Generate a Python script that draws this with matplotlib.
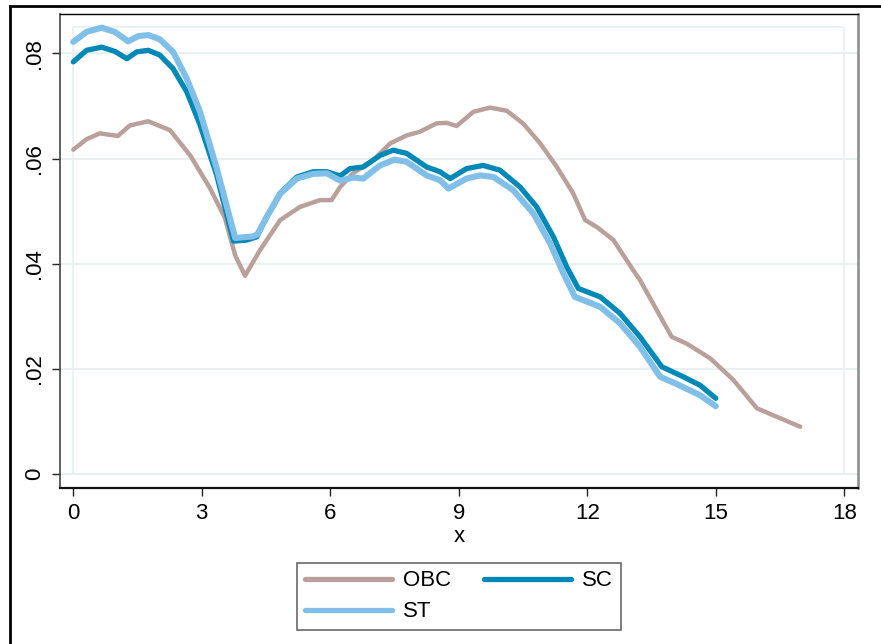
import matplotlib
matplotlib.use("Agg")
import matplotlib.pyplot as plt
from matplotlib.lines import Line2D

plt.rcParams['font.family'] = ['Liberation Sans', 'DejaVu Sans']

# OBC series
obc_x = [0.0, 0.31, 0.62, 1.04, 1.32, 1.75, 2.26, 2.73, 3.19, 3.54, 3.78, 4.01,
         4.36, 4.83, 5.29, 5.76, 6.03, 6.23, 6.53, 7.0, 7.4, 7.78, 8.09, 8.48,
         8.72, 8.95, 9.34, 9.73, 10.12, 10.5, 10.9, 11.29, 11.67, 11.95, 12.22,
         12.61, 13.07, 13.23, 13.62, 13.97, 14.32, 14.87, 15.41, 15.96, 16.42, 16.97]
obc_y = [0.0617, 0.0637, 0.0648, 0.0643, 0.0663, 0.0671, 0.0654, 0.0606, 0.0544,
         0.0487, 0.0416, 0.0377, 0.0426, 0.0483, 0.0508, 0.0521, 0.0521, 0.0546,
         0.0572, 0.0597, 0.0629, 0.0644, 0.0651, 0.0667, 0.0668, 0.0662, 0.0689,
         0.0697, 0.0691, 0.0667, 0.0629, 0.0584, 0.0534, 0.0483, 0.0470, 0.0445,
         0.0388, 0.0369, 0.0312, 0.0261, 0.0248, 0.0220, 0.0179, 0.0125, 0.0109,
         0.0090]

# SC series
sc_x = [0.0, 0.31, 0.66, 0.97, 1.25, 1.48, 1.75, 2.02, 2.33, 2.65, 2.96, 3.35,
        3.74, 4.05, 4.28, 4.52, 4.83, 5.22, 5.6, 5.92, 6.23, 6.46, 6.77, 7.16,
        7.47, 7.78, 8.25, 8.56, 8.8, 9.18, 9.57, 9.96, 10.43, 10.82, 11.21,
        11.52, 11.79, 12.3, 12.76, 13.23, 13.74, 14.24, 14.63, 15.0]
sc_y = [0.0784, 0.0806, 0.0812, 0.0804, 0.0790, 0.0803, 0.0806, 0.0797, 0.0771,
        0.0727, 0.0664, 0.0568, 0.0443, 0.0445, 0.0451, 0.0489, 0.0534, 0.0565,
        0.0575, 0.0575, 0.0567, 0.0581, 0.0584, 0.0606, 0.0616, 0.0610, 0.0584,
        0.0575, 0.0562, 0.0581, 0.0587, 0.0578, 0.0546, 0.0508, 0.0451, 0.0394,
        0.0353, 0.0337, 0.0306, 0.0261, 0.0204, 0.0185, 0.0169, 0.0144]

# ST series
st_x = [0.0, 0.31, 0.66, 0.97, 1.28, 1.52, 1.75, 2.02, 2.33, 2.65, 2.96, 3.35,
        3.78, 4.2, 4.3, 4.52, 4.83, 5.22, 5.6, 5.92, 6.23, 6.54, 6.77, 7.16,
        7.5, 7.78, 8.25, 8.56, 8.76, 9.18, 9.5, 9.81, 10.27, 10.74, 11.13,
        11.44, 11.71, 12.3, 12.76, 13.23, 13.7, 14.09, 14.63, 15.0]
st_y = [0.0822, 0.0841, 0.0849, 0.0841, 0.0823, 0.0833, 0.0835, 0.0827, 0.0803,
        0.0752, 0.0689, 0.0581, 0.0449, 0.0452, 0.0456, 0.0490, 0.0533, 0.0562,
        0.0571, 0.0572, 0.0558, 0.0564, 0.0562, 0.0587, 0.0598, 0.0594, 0.0568,
        0.0559, 0.0543, 0.0562, 0.0568, 0.0565, 0.0540, 0.0496, 0.0439, 0.0382,
        0.0337, 0.0318, 0.0287, 0.0242, 0.0185, 0.0171, 0.0150, 0.0129]

xticks = [0, 3, 6, 9, 12, 15, 18]
yticks = [0, 0.02, 0.04, 0.06, 0.08]
ytick_labels = ['0', '.02', '.04', '.06', '.08']

grid_col = '#e8f0f1'

fig = plt.figure(figsize=(8.81, 6.44), dpi=100)
ax = fig.add_axes([60 / 881, 1 - 488 / 644, 798 / 881, 474.5 / 644])

for y in yticks:
    ax.axhline(y, color=grid_col, lw=1.5, zorder=0)
ax.vlines([xticks[0], xticks[-1]], 0, 0.085, color=grid_col, lw=1.2, zorder=0)
ax.hlines(0.085, xticks[0], xticks[-1], color=grid_col, lw=1.2, zorder=0)

l_obc, = ax.plot(obc_x, obc_y, color='#b9a09a', lw=3.2, label='OBC',
                 solid_capstyle='round', solid_joinstyle='round')
l_sc, = ax.plot(sc_x, sc_y, color='#0088b6', lw=3.8, label='SC',
                solid_capstyle='round', solid_joinstyle='round')
l_st, = ax.plot(st_x, st_y, color='#80bfe8', lw=4.4, label='ST',
                solid_capstyle='round', solid_joinstyle='round')

ax.set_xlim(-0.31, 18.32)
ax.set_ylim(-0.00266, 0.0876)
ax.set_xticks(xticks)
ax.set_yticks(yticks)
ax.set_yticklabels(ytick_labels, rotation=90, va='center')
ax.tick_params(axis='both', length=6, width=1, labelsize=16, color='#222222')
ax.tick_params(axis='x', pad=5)
ax.tick_params(axis='y', pad=5)
ax.set_xlabel('x', fontsize=16, labelpad=1)

ax.spines['top'].set_color('black')
ax.spines['top'].set_linewidth(1.0)
ax.spines['left'].set_color('#444444')
ax.spines['left'].set_linewidth(1.2)
ax.spines['bottom'].set_color('#111111')
ax.spines['bottom'].set_linewidth(1.6)
ax.spines['right'].set_color('#8a8a8a')
ax.spines['right'].set_linewidth(1.8)

# legend filled row-wise: OBC, SC / ST
leg = fig.legend([l_obc, l_st, l_sc], ['OBC', 'ST', 'SC'], ncol=2, loc='center',
                 bbox_to_anchor=(459 / 881, 1 - 596.4 / 644),
                 fontsize=16, frameon=True, fancybox=False,
                 handlelength=3.9, handletextpad=0.5, columnspacing=1.5,
                 labelspacing=0.45, borderpad=0.35)
leg.get_frame().set_edgecolor('#444444')
leg.get_frame().set_linewidth(1.2)
for line in leg.get_lines():
    line.set_linewidth(3.8)

# outer frame (left and top edges)
fig.add_artist(Line2D([10 / 881, 10 / 881], [0, 1 - 6 / 644], transform=fig.transFigure,
                      color='black', lw=2.0))
fig.add_artist(Line2D([10 / 881, 1], [1 - 6 / 644, 1 - 6 / 644], transform=fig.transFigure,
                      color='black', lw=2.0))

fig.savefig('out.png', dpi=100)
